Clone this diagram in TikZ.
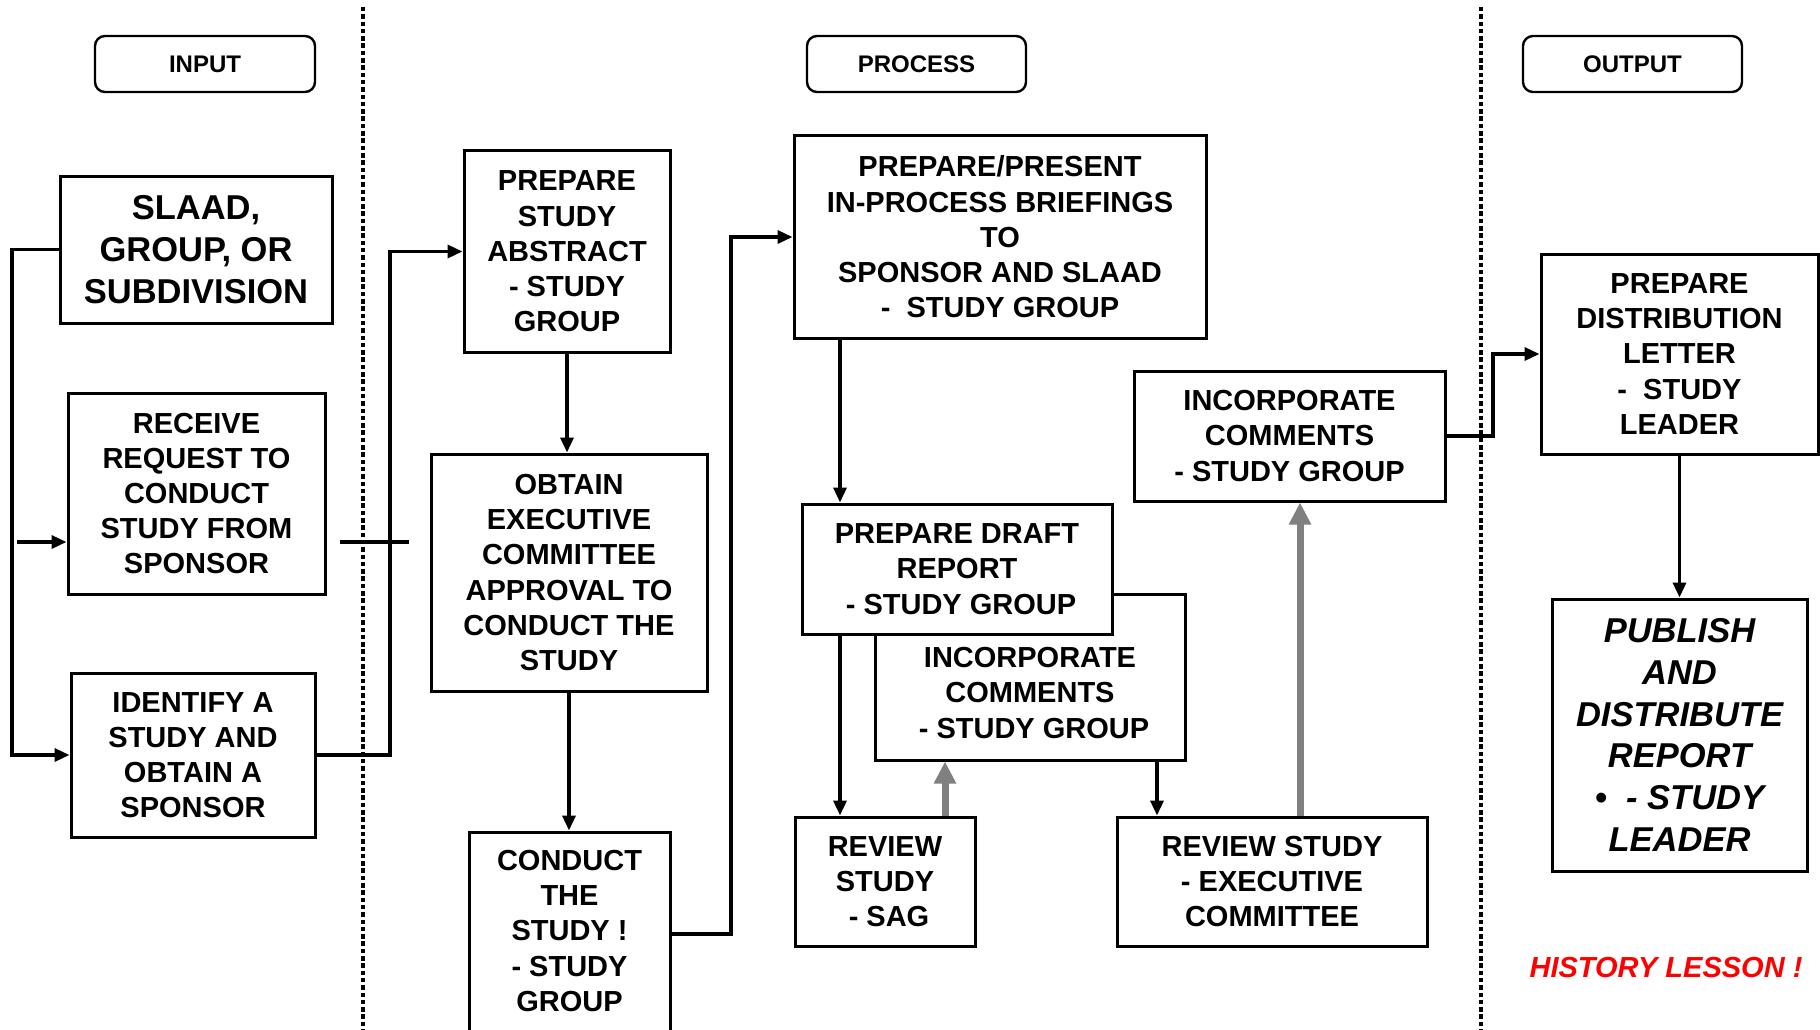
\documentclass[tikz,border=0pt]{standalone}
\usepackage{fontspec}
\setmainfont{Liberation Sans}
\usetikzlibrary{arrows.meta,calc}
\begin{document}
\begin{tikzpicture}[x=1pt,y=-1pt,
 box/.style={draw, line width=3pt, fill=white, align=center, inner sep=0pt, font=\fontsize{29}{35.2}\selectfont\bfseries},
 bigbox/.style={box, font=\fontsize{34.5}{41.8}\selectfont\bfseries},
 italbox/.style={box, font=\fontsize{34.5}{41.8}\selectfont\bfseries\itshape},
 txt/.style={align=center, inner sep=0pt, font=\fontsize{29}{35.2}\selectfont\bfseries},
 hdr/.style={draw, line width=2.4pt, rounded corners=10pt, inner sep=0pt, font=\fontsize{24}{28}\selectfont\bfseries},
 conn/.style={line width=3.4pt, -{Triangle[length=15pt,width=13pt]}},
 plainline/.style={line width=3.4pt},
 grayarrow/.style={line width=7pt, draw=gray, -{Triangle[length=22pt,width=21pt]}},
 divider/.style={line width=4.5pt, dash pattern=on 4.5pt off 2.8pt},
]
\useasboundingbox (0,0) rectangle (1820,1030);

% dividers
\coordinate (d1t) at (363,7);
\coordinate (d1b) at (363,1030);
\coordinate (d2t) at (1481,7);
\coordinate (d2b) at (1481,1030);
\draw[divider] (d1t) -- (d1b);
\draw[divider] (d2t) -- (d2b);

% headers
\node[hdr, minimum width=220, minimum height=56] (hin) at (205,64) {INPUT};
\node[hdr, minimum width=219, minimum height=56] (hproc) at (916.5,64) {PROCESS};
\node[hdr, minimum width=219, minimum height=56] (hout) at (1632.5,64) {OUTPUT};

% input column
\node[bigbox, minimum width=272, minimum height=147] (slaad) at (196,249.5) {SLAAD,\\GROUP, OR\\SUBDIVISION};
\node[box, minimum width=257, minimum height=201] (receive) at (196.5,493.5) {RECEIVE\\REQUEST TO\\CONDUCT\\STUDY FROM\\SPONSOR};
\node[box, minimum width=244, minimum height=164] (identify) at (193,755) {IDENTIFY A\\STUDY AND\\OBTAIN A\\SPONSOR};

% process column
\node[box, minimum width=206, minimum height=201] (abstract) at (567,251.5) {PREPARE\\STUDY\\ABSTRACT\\- STUDY\\GROUP};
\node[box, minimum width=276, minimum height=237] (obtain) at (569,572.5) {OBTAIN\\EXECUTIVE\\COMMITTEE\\APPROVAL TO\\CONDUCT THE\\STUDY};
\node[box, minimum width=201, minimum height=204] (conductbox) at (569.5,934) {};
\node[txt] (conduct) at (569.5,931) {CONDUCT\\THE\\STUDY !\\- STUDY\\GROUP};
\node[box, minimum width=412, minimum height=202] (present) at (1000,237) {PREPARE/PRESENT\\IN-PROCESS BRIEFINGS\\TO\\SPONSOR AND SLAAD\\-~~STUDY GROUP};
\node[box, minimum width=310, minimum height=166] (incorpb) at (1030,677) {};
\node[txt] (incorpt) at (1030,693) {INCORPORATE\\COMMENTS\\\ - STUDY GROUP};
\node[box, minimum width=310, minimum height=130] (draft) at (957,569) {PREPARE DRAFT\\REPORT\\\ - STUDY GROUP};
\node[box, minimum width=180, minimum height=129] (sag) at (885,881.5) {REVIEW\\STUDY\\\ - SAG};
\node[box, minimum width=310, minimum height=129] (exec) at (1272,881.5) {REVIEW STUDY\\- EXECUTIVE\\COMMITTEE};
\node[box, minimum width=311, minimum height=130] (incorp) at (1289.5,436) {INCORPORATE\\COMMENTS\\- STUDY GROUP};

% output column
\node[box, minimum width=277, minimum height=200] (distrib) at (1679.5,354) {PREPARE\\DISTRIBUTION\\LETTER\\-~~STUDY\\LEADER};
\node[italbox, minimum width=255, minimum height=272] (publish) at (1679.5,735) {PUBLISH\\AND\\DISTRIBUTE\\REPORT\\•~~- STUDY\\LEADER};
\node[font=\fontsize{29}{34}\selectfont\bfseries\itshape, text={rgb,255:red,255;green,0;blue,0}, inner sep=0pt] (history) at (1666,968) {HISTORY LESSON !};

% helper coordinates
\coordinate (xl) at (12,0);
\coordinate (rin) at (17,542);
\coordinate (fa) at (340,542);
\coordinate (fb) at (409,542);
\coordinate (xa) at (390,0);
\coordinate (xb) at (731,0);
\coordinate (xc) at (840,0);
\coordinate (xd) at (945,0);
\coordinate (xe) at (1157,0);
\coordinate (xf) at (1300,0);
\coordinate (xg) at (1493,0);

% connectors
\draw[conn] (slaad.west) -- (xl |- slaad.west) -- (xl |- identify.west) -- (identify.west);
\draw[conn] (rin) -- (rin -| receive.west);
\draw[plainline] (fa) -- (fb);
\draw[conn] (identify.east) -- (xa |- identify.east) -- (xa |- abstract.west) -- (abstract.west);
\draw[conn] (abstract.south) -- (abstract.south |- obtain.north);
\draw[conn] (obtain.south) -- (obtain.south |- conductbox.north);
\draw[conn] (conductbox.east) -- (xb |- conductbox.east) -- (xb |- present.west) -- (present.west);
\draw[conn] (xc |- present.south) -- (xc |- draft.north);
\draw[conn] (xc |- draft.south) -- (xc |- sag.north);
\draw[conn] (xe |- incorpb.south) -- (xe |- exec.north);
\draw[grayarrow] (xd |- sag.north) -- (xd |- incorpb.south);
\draw[grayarrow] (xf |- exec.north) -- (xf |- incorp.south);
\draw[conn] (incorp.east) -- (xg |- incorp.east) -- (xg |- distrib.west) -- (distrib.west);
\draw[conn] (distrib.south) -- (publish.north);
\end{tikzpicture}
\end{document}
